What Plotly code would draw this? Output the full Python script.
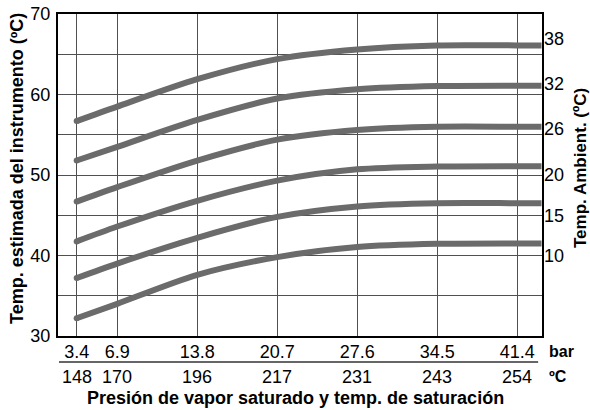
import plotly.graph_objects as go

# ---- data ----
pressure_bar = [3.4, 6.9, 13.8, 20.7, 27.6, 34.5, 41.4]
pressure_labels = ["3.4", "6.9", "13.8", "20.7", "27.6", "34.5", "41.4"]
sat_temp_labels = ["148", "170", "196", "217", "231", "243", "254"]

curve_x = [3.4, 6.9, 13.8, 20.7, 27.6, 34.5, 41.4, 43.5]
amb_38 = [56.7, 58.5, 61.9, 64.4, 65.6, 66.1, 66.1, 66.1]
amb_32 = [51.8, 53.5, 56.85, 59.5, 60.65, 61.05, 61.1, 61.1]
amb_26 = [46.7, 48.5, 51.8, 54.4, 55.6, 56.0, 56.0, 56.0]
amb_20 = [41.75, 43.6, 46.8, 49.3, 50.7, 51.05, 51.1, 51.1]
amb_15 = [37.2, 39.0, 42.2, 44.8, 46.1, 46.5, 46.5, 46.5]
amb_10 = [32.2, 34.0, 37.6, 39.8, 41.05, 41.45, 41.5, 41.5]

ambient_labels = ["38", "32", "26", "20", "15", "10"]
ambient_label_at = [66.9, 61.4, 55.8, 50, 45, 40]

left_ticks = [30, 40, 50, 60, 70]

FONT = "Liberation Sans, Arial, Helvetica, sans-serif"
LINE_COL = "#6b6b6b"
GRID_COL = "#505050"
TICK_SIZE = 18
TITLE_SIZE = 18

fig = go.Figure()
curves = [amb_38, amb_32, amb_26, amb_20, amb_15, amb_10]
for ys in curves:
    fig.add_trace(go.Scatter(
        x=curve_x, y=ys, mode="lines",
        line=dict(color=LINE_COL, width=6, shape="spline", smoothing=0.8),
        showlegend=False, hoverinfo="skip"))
# rounded start caps
fig.add_trace(go.Scatter(
    x=[curve_x[0]] * len(curves), y=[c[0] for c in curves], mode="markers",
    marker=dict(color=LINE_COL, size=6, line=dict(width=0)),
    showlegend=False, hoverinfo="skip"))
# dummy trace for the right axis
fig.add_trace(go.Scatter(x=[None], y=[None], yaxis="y2", showlegend=False))

fig.update_layout(
    width=590, height=410,
    margin=dict(l=58, r=48, t=14, b=74),
    paper_bgcolor="white", plot_bgcolor="white",
    font=dict(family=FONT, color="black", size=TICK_SIZE),
    xaxis=dict(
        range=[1.79, 43.54], tickvals=pressure_bar, ticktext=pressure_labels,
        showgrid=True, gridcolor=GRID_COL, gridwidth=1,
        showline=True, linecolor="black", linewidth=2, mirror=True,
        ticks="", zeroline=False, ticklabelstandoff=-2, automargin=False,
        tickfont=dict(size=TICK_SIZE),
    ),
    yaxis=dict(
        range=[30, 70], tickvals=left_ticks,
        showgrid=True, gridcolor=GRID_COL, gridwidth=1,
        minor=dict(dtick=5, showgrid=True, gridcolor=GRID_COL, gridwidth=1, ticks=""),
        showline=True, linecolor="black", linewidth=2, mirror=True,
        ticks="", zeroline=False, ticklabelstandoff=2, automargin=False,
        tickfont=dict(size=TICK_SIZE),
    ),
    yaxis2=dict(
        range=[30, 70], overlaying="y", side="right",
        tickvals=ambient_label_at, ticktext=ambient_labels,
        showgrid=False, zeroline=False, ticks="", showline=False, automargin=False,
        tickfont=dict(size=TICK_SIZE), ticklabelstandoff=1,
    ),
)

# second row of x labels (saturation temperature)
for xv, lab in zip(pressure_bar, sat_temp_labels):
    fig.add_annotation(x=xv, xref="x", y=-0.1273, yref="paper", text=lab,
                       showarrow=False, xanchor="center", yanchor="middle",
                       font=dict(size=TICK_SIZE))

fig.add_annotation(x=1.0103, xref="paper", y=-0.047, yref="paper", text="<b>bar</b>",
                   showarrow=False, xanchor="left", yanchor="middle", font=dict(size=16))
fig.add_annotation(x=1.0103, xref="paper", y=-0.1273, yref="paper", text="<b>ºC</b>",
                   showarrow=False, xanchor="left", yanchor="middle", font=dict(size=16))

fig.add_shape(type="line", xref="paper", yref="paper", x0=0.002, x1=0.992,
              y0=-0.0807, y1=-0.0807, line=dict(color="#333333", width=1.5))

fig.add_annotation(x=0.4917, xref="paper", y=-0.192, yref="paper",
                   text="<b>Presión de vapor saturado y temp. de saturación</b>",
                   showarrow=False, xanchor="center", yanchor="middle",
                   font=dict(size=TITLE_SIZE), borderpad=0)
fig.add_annotation(x=-0.0847, xref="paper", y=0.5186, yref="paper",
                   text="<b>Temp. estimada del instrumento (ºC)</b>", textangle=-90,
                   showarrow=False, xanchor="center", yanchor="middle",
                   font=dict(size=TITLE_SIZE))
fig.add_annotation(x=1.0785, xref="paper", y=0.5217, yref="paper",
                   text="<b>Temp. Ambient. (ºC)</b>", textangle=-90,
                   showarrow=False, xanchor="center", yanchor="middle",
                   font=dict(size=17), borderpad=0)

fig.write_html("out.html", config={"displayModeBar": False},
               post_script="document.body.style.margin='0';document.body.style.overflow='hidden';")
